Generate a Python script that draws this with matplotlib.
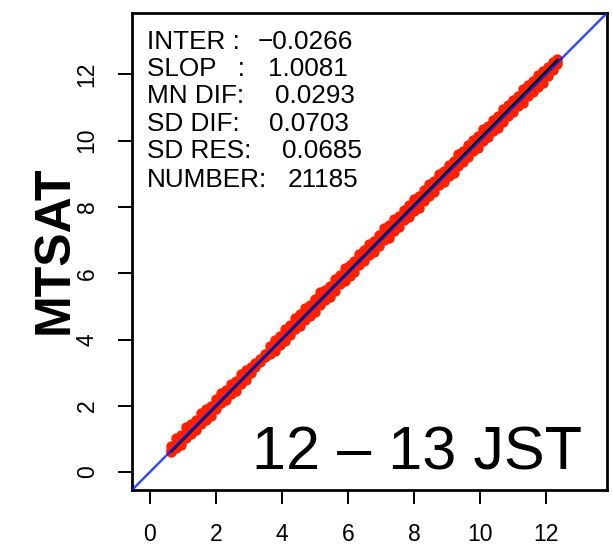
import matplotlib
matplotlib.use("Agg")
import matplotlib.pyplot as plt

plt.rcParams['font.family'] = ['Liberation Sans', 'DejaVu Sans']

# points (x, and the upper / middle / lower edge of the cloud)
x = [0.65, 0.80, 0.95, 1.10, 1.25, 1.40, 1.55, 1.70, 1.85, 2.00,
     2.15, 2.30, 2.45, 2.60, 2.75, 2.90, 3.05, 3.20, 3.35, 3.50,
     3.65, 3.80, 3.95, 4.10, 4.25, 4.40, 4.55, 4.70, 4.85, 5.00,
     5.15, 5.30, 5.45, 5.60, 5.75, 5.90, 6.05, 6.20, 6.35, 6.50,
     6.65, 6.80, 6.95, 7.10, 7.25, 7.40, 7.55, 7.70, 7.85, 8.00,
     8.15, 8.30, 8.45, 8.60, 8.75, 8.90, 9.05, 9.20, 9.35, 9.50,
     9.65, 9.80, 9.95, 10.10, 10.25, 10.40, 10.55, 10.70, 10.85, 11.00,
     11.15, 11.30, 11.45, 11.60, 11.75, 11.90, 12.05, 12.20, 12.35]
y_upper = [0.80, 1.02, 1.13, 1.35, 1.45, 1.56, 1.78, 1.89, 1.99, 2.21,
           2.39, 2.47, 2.65, 2.75, 2.97, 3.08, 3.17, 3.28, 3.40, 3.56,
           3.79, 4.00, 4.12, 4.33, 4.44, 4.66, 4.76, 4.94, 5.03, 5.22,
           5.42, 5.50, 5.62, 5.83, 5.94, 6.15, 6.26, 6.36, 6.57, 6.70,
           6.89, 6.98, 7.16, 7.36, 7.44, 7.63, 7.72, 7.92, 8.05, 8.25,
           8.33, 8.51, 8.69, 8.79, 8.98, 9.07, 9.27, 9.40, 9.61, 9.68,
           9.88, 10.01, 10.14, 10.34, 10.45, 10.62, 10.73, 10.95, 11.06, 11.23,
           11.34, 11.56, 11.67, 11.80, 11.99, 12.11, 12.23, 12.36, 12.45]
y_mid = [0.68, 0.85, 0.97, 1.14, 1.28, 1.43, 1.60, 1.73, 1.87, 2.04,
         2.19, 2.32, 2.49, 2.63, 2.79, 2.93, 3.08, 3.22, 3.37, 3.52,
         3.69, 3.84, 3.98, 4.14, 4.28, 4.44, 4.58, 4.74, 4.88, 5.03,
         5.19, 5.33, 5.47, 5.64, 5.78, 5.94, 6.08, 6.22, 6.39, 6.53,
         6.69, 6.82, 6.98, 7.14, 7.27, 7.44, 7.57, 7.74, 7.88, 8.04,
         8.17, 8.34, 8.48, 8.62, 8.79, 8.92, 9.08, 9.22, 9.39, 9.52,
         9.68, 9.83, 9.97, 10.14, 10.28, 10.43, 10.57, 10.74, 10.88, 11.04,
         11.17, 11.34, 11.49, 11.63, 11.79, 11.93, 12.08, 12.22, 12.37]
y_lower = [0.60, 0.72, 0.83, 1.04, 1.15, 1.26, 1.46, 1.58, 1.69, 1.89,
           2.07, 2.17, 2.35, 2.45, 2.66, 2.78, 2.98, 3.16, 3.32, 3.46,
           3.55, 3.66, 3.84, 3.94, 4.13, 4.31, 4.40, 4.59, 4.72, 4.82,
           5.03, 5.20, 5.29, 5.47, 5.66, 5.75, 5.93, 6.03, 6.24, 6.36,
           6.55, 6.64, 6.82, 6.99, 7.07, 7.28, 7.40, 7.60, 7.71, 7.88,
           7.98, 8.19, 8.32, 8.44, 8.65, 8.76, 8.93, 9.02, 9.24, 9.35,
           9.52, 9.70, 9.79, 9.98, 10.11, 10.29, 10.38, 10.57, 10.75, 10.85,
           11.03, 11.14, 11.34, 11.46, 11.63, 11.75, 11.95, 12.12, 12.30]

stat_labels = ["INTER :", "SLOP   :", "MN DIF:", "SD DIF:", "SD RES:", "NUMBER:"]
stat_values = ["\u22120.0266", "1.0081", "0.0293", "0.0703", "0.0685", "21185"]
inter = -0.0266
slop = 1.0081

ticks = [0, 2, 4, 6, 8, 10, 12]
lim = (-0.54, 13.85)

fig = plt.figure(figsize=(6.13, 5.48), dpi=100)
ax = fig.add_axes([132 / 613, 58 / 548, 475 / 613, 477 / 548])

for yy in (y_upper, y_lower, y_mid):
    ax.plot(x, yy, linestyle="none", marker="o", markersize=7.5,
            markerfacecolor="#ff2000", markeredgewidth=0, zorder=2)

# regression line over the data range, 1:1 line over everything
ax.plot([x[0], x[-1]], [inter + slop * x[0], inter + slop * x[-1]],
        color="black", lw=2.0, zorder=3)
ax.axline((0, 0), slope=1, color="#0022ee", lw=1.8, alpha=0.8, zorder=4)

ax.set_xlim(lim)
ax.set_ylim(lim)
ax.set_xticks(ticks)
ax.set_yticks(ticks)
ax.set_xticklabels([str(t) for t in ticks], fontsize=16.5)
ax.set_yticklabels([str(t) for t in ticks], fontsize=16.5, rotation=90, va="center")
ax.tick_params(length=10, width=1.4, pad=14, colors="black")
for s in ax.spines.values():
    s.set_linewidth(2.0)

value_x = [258, 268, 275, 269, 282, 288]
base_y = [49, 76, 103, 131, 158, 187]
for lab, val, vx, by in zip(stat_labels, stat_values, value_x, base_y):
    fig.text(147 / 613, 1 - by / 548, lab, fontsize=18.8, va="baseline", ha="left")
    fig.text(vx / 613, 1 - by / 548, val, fontsize=18.8, va="baseline", ha="left")

fig.text(582 / 613, 1 - 470 / 548, "12 \u2013 13 JST", fontsize=44,
         ha="right", va="baseline")
fig.text(55 / 613, 1 - 250 / 548, "MTSAT", fontsize=36, fontweight="bold",
         rotation=90, ha="center", va="center")

fig.savefig("out.png", dpi=100)
